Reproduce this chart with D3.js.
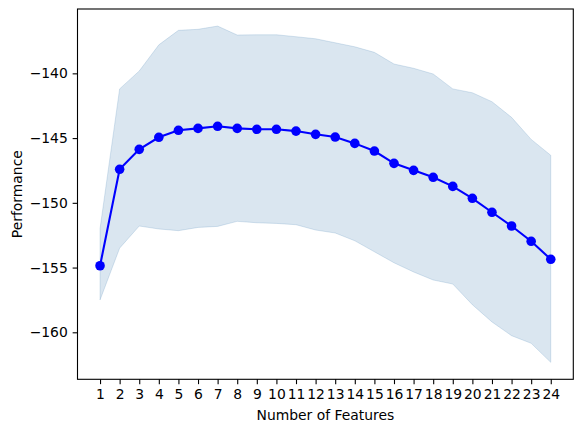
<!DOCTYPE html>
<html>
<head>
<meta charset="utf-8">
<script src="https://cdn.jsdelivr.net/npm/d3@7"></script>
<style>
  html, body { margin: 0; padding: 0; background: #fff; }
  svg { display: block; }
  text { font-family: "DejaVu Sans", sans-serif; }
</style>
</head>
<body>
<svg id="chart" width="583" height="432"></svg>
<script>
const features = [1,2,3,4,5,6,7,8,9,10,11,12,13,14,15,16,17,18,19,20,21,22,23,24];
const meanPerf = [-154.86,-147.41,-145.87,-144.94,-144.40,-144.25,-144.09,-144.25,-144.32,-144.32,-144.46,-144.71,-144.92,-145.41,-146.00,-146.95,-147.49,-148.03,-148.73,-149.65,-150.73,-151.79,-152.97,-154.36];
const upperPerf = [-152.0,-141.2,-139.82,-137.8,-136.68,-136.6,-136.35,-137.04,-137.02,-137.02,-137.17,-137.33,-137.64,-137.95,-138.38,-139.28,-139.61,-140.05,-141.2,-141.5,-142.19,-143.4,-145.1,-146.33];
const lowerPerf = [-157.5,-153.5,-151.79,-152.02,-152.15,-151.9,-151.82,-151.43,-151.54,-151.59,-151.69,-152.1,-152.33,-152.93,-153.78,-154.63,-155.34,-155.96,-156.27,-157.87,-159.2,-160.26,-160.85,-162.32];
const yTicks = [-160,-155,-150,-145,-140];
const xLabel = "Number of Features";
const yLabel = "Performance";

const svg = d3.select("#chart");
const mLeft = 77.5, mRight = 573.3, mTop = 9, mBottom = 379.3;

const x = d3.scaleLinear().domain([-0.15, 25.15]).range([mLeft, mRight]);
const y = d3.scaleLinear().domain([-163.63, -135.03]).range([mBottom, mTop]);

const data = features.map((f, i) => ({f, m: meanPerf[i], lo: lowerPerf[i], hi: upperPerf[i]}));

// band
svg.append("path")
  .datum(data)
  .attr("d", d3.area().x(d => x(d.f)).y0(d => y(d.lo)).y1(d => y(d.hi)))
  .attr("fill", "steelblue")
  .attr("fill-opacity", 0.2)
  .attr("stroke", "steelblue")
  .attr("stroke-opacity", 0.2)
  .attr("stroke-width", 1);

// line
svg.append("path")
  .datum(data)
  .attr("d", d3.line().x(d => x(d.f)).y(d => y(d.m)))
  .attr("fill", "none")
  .attr("stroke", "#0000ff")
  .attr("stroke-width", 2.08);

svg.selectAll("circle.pt")
  .data(data)
  .enter().append("circle")
  .attr("class", "pt")
  .attr("cx", d => x(d.f))
  .attr("cy", d => y(d.m))
  .attr("r", 4.8)
  .attr("fill", "#0000ff");

// axes
const xAxis = d3.axisBottom(x).tickValues(features).tickFormat(d3.format("d")).tickSize(4.86).tickPadding(4.86);
const yAxis = d3.axisLeft(y).tickValues(yTicks).tickFormat(d3.format("d")).tickSize(4.86).tickPadding(4.86);

const gx = svg.append("g").attr("transform", `translate(0,${mBottom})`).call(xAxis);
const gy = svg.append("g").attr("transform", `translate(${mLeft},0)`).call(yAxis);
[gx, gy].forEach(g => {
  g.select(".domain").remove();
  g.selectAll(".tick line").attr("stroke", "#000").attr("stroke-width", 1.1);
  g.selectAll(".tick text").attr("fill", "#000").style("font-size", "13.9px").style("font-family", "DejaVu Sans, sans-serif");
});

// frame
svg.append("rect")
  .attr("x", mLeft).attr("y", mTop)
  .attr("width", mRight - mLeft).attr("height", mBottom - mTop)
  .attr("fill", "none").attr("stroke", "#000").attr("stroke-width", 1.1);

svg.append("text")
  .attr("x", (mLeft + mRight) / 2).attr("y", 420)
  .attr("text-anchor", "middle")
  .style("font-size", "13.9px")
  .attr("fill", "#000")
  .text(xLabel);

svg.append("text")
  .attr("transform", `translate(22,${(mTop + mBottom) / 2}) rotate(-90)`)
  .attr("text-anchor", "middle")
  .style("font-size", "13.9px")
  .attr("fill", "#000")
  .text(yLabel);
</script>
</body>
</html>
